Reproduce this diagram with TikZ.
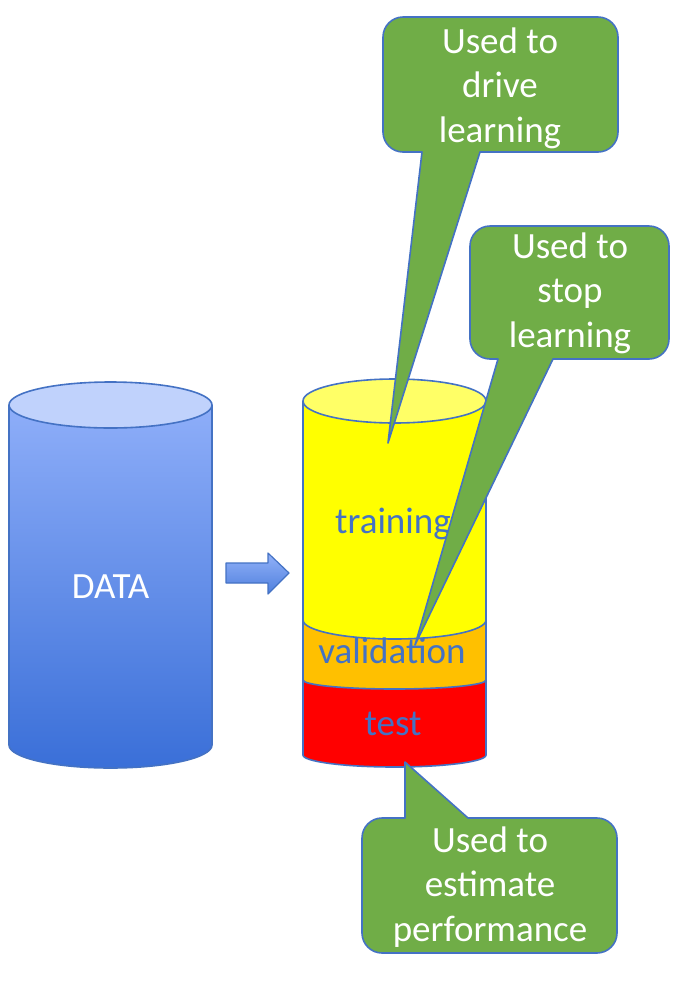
\documentclass[tikz,border=0pt]{standalone}
\usepackage{fontspec}
\setmainfont{Carlito}
\definecolor{edgeblue}{HTML}{4472C4}
\definecolor{calloutgreen}{HTML}{70AD47}
\definecolor{datatop}{HTML}{8EAEF9}
\definecolor{databottom}{HTML}{3A6FD8}
\definecolor{datacap}{HTML}{C0D2FC}
\definecolor{arrowtop}{HTML}{93B2F9}
\definecolor{arrowbottom}{HTML}{4E7FDD}
\definecolor{trainyellow}{HTML}{FFFF00}
\definecolor{traincap}{HTML}{FFFF66}
\definecolor{valorange}{HTML}{FFC000}
\definecolor{testred}{HTML}{FF0000}
\newcommand{\threelines}[3]{\begin{tabular}[t]{@{}c@{}}#1\\#2\\#3\end{tabular}}
\begin{document}
\begin{tikzpicture}[x=1pt,y=-1pt,line join=round]
\tikzset{
  outline/.style={draw=edgeblue,line width=1.6pt},
  callout/.style={outline,fill=calloutgreen},
  bigtext/.style={font=\fontsize{37}{44.5}\selectfont,inner sep=0pt},
  callouttext/.style={bigtext,text=white,anchor=base},
  labeltext/.style={bigtext,text=edgeblue,anchor=base},
}
\fill[white] (0,0) rectangle (677,989);
\useasboundingbox (0,0) rectangle (677,989);

% DATA cylinder
\path[outline,top color=datatop,bottom color=databottom]
  (9,405) -- (9,745) .. controls (9,757.7) and (54.4,768) .. (110.5,768)
  .. controls (166.6,768) and (212,757.7) .. (212,745) -- (212,405);
\path[outline,fill=datacap] (110.5,405) ellipse (101.5pt and 23pt);
\node[bigtext,text=white,anchor=base] (data) at (110.5,598) {DATA};

% block arrow
\path[outline,line width=1.2pt,top color=arrowtop,bottom color=arrowbottom]
  (226,563) -- (268,563) -- (268,553) -- (289,573) -- (268,594) -- (268,583) -- (226,583) -- cycle;

% split cylinder: test (red)
\path[outline,fill=testred]
  (303,670) -- (303,755) .. controls (303,761.6) and (344,767) .. (394.5,767)
  .. controls (445,767) and (486,761.6) .. (486,755) -- (486,670);
% validation (orange)
\path[outline,fill=valorange]
  (303,610) -- (303,680) .. controls (303,685) and (344,689) .. (394.5,689)
  .. controls (445,689) and (486,685) .. (486,680) -- (486,610);
% training (yellow)
\path[outline,fill=trainyellow]
  (303,401) -- (303,620) .. controls (303,630.5) and (344,639) .. (394.5,639)
  .. controls (445,639) and (486,630.5) .. (486,620) -- (486,401);
\path[outline,fill=traincap] (394.5,401) ellipse (91.5pt and 22pt);

\node[labeltext] (training) at (393,533) {training};
\node[labeltext] (validation) at (392,663) {validation};
\node[labeltext] (test) at (393,735) {test};

% callouts
\path[callout] (422,152) -- (388,443) -- (480,152) -- (598,152)
  .. controls (609,152) and (618,143) .. (618,132) -- (618,37)
  .. controls (618,26) and (609,17) .. (598,17) -- (403,17)
  .. controls (392,17) and (383,26) .. (383,37) -- (383,132)
  .. controls (383,143) and (392,152) .. (403,152) -- cycle;
\node[callouttext] (drive) at (500,53) {\threelines{Used to}{drive}{learning}};

\path[callout] (498,359) -- (415,645) -- (553,359) -- (649,359)
  .. controls (660,359) and (669,350) .. (669,339) -- (669,246)
  .. controls (669,235) and (660,226) .. (649,226) -- (490,226)
  .. controls (479,226) and (470,235) .. (470,246) -- (470,339)
  .. controls (470,350) and (479,359) .. (490,359) -- cycle;
\node[callouttext] (stop) at (570,258) {\threelines{Used to}{stop}{learning}};

\path[callout] (405,818) -- (405,762) -- (468,818) -- (597,818)
  .. controls (608,818) and (617,827) .. (617,838) -- (617,933)
  .. controls (617,944) and (608,953) .. (597,953) -- (382,953)
  .. controls (371,953) and (362,944) .. (362,933) -- (362,838)
  .. controls (362,827) and (371,818) .. (382,818) -- cycle;
\node[callouttext] (estimate) at (490,852) {\threelines{Used to}{estimate}{performance}};
\end{tikzpicture}
\end{document}
